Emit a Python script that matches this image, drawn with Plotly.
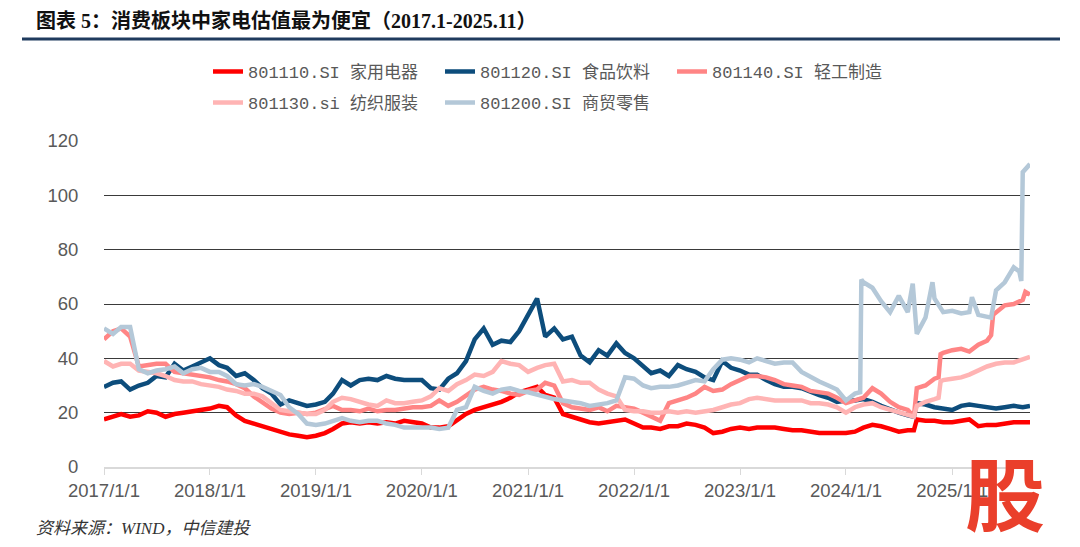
import pandas as pd
import plotly.graph_objects as go

# ---------------- data (monthly + a few extra points at jumps) -------------
months = pd.date_range("2017-01-01", periods=105, freq="MS")
END = "2025-09-26"

names = ["801110.SI 家用电器", "801120.SI 食品饮料", "801140.SI 轻工制造",
         "801130.si 纺织服装", "801200.SI 商贸零售"]
colors = ["#ff0000", "#0d4d7c", "#ff8585", "#ffb4b4", "#b4c8d8"]

jiadian = [17.5, 18.5, 19.5, 18.5, 19, 20.5, 20, 18.5, 19.5, 20, 20.5, 21,
           21.5, 22.5, 22, 19, 17, 16, 15, 14, 13, 12, 11.5, 11,
           11.5, 12.5, 14, 16, 16.5, 16, 16.5, 16, 16.5, 16, 17, 16.5,
           16, 14.5, 14.5, 15, 17, 19.5, 21, 22, 23, 24, 25.5, 27.5,
           28.5, 29.5, 26.5, 25.5, 19.5, 18.5, 17.5, 16.5, 16, 16.5, 17, 17.5,
           16, 14.5, 14.5, 14, 15, 15, 16, 15.5, 14.5, 12.5, 13, 14,
           14.5, 14, 14.5, 14.5, 14.5, 14, 13.5, 13.5, 13, 12.5, 12.5, 12.5,
           12.5, 13, 14.5, 15.5, 15, 14, 13, 13.5, 17.5, 17, 17, 16.5,
           16.5, 17, 17.5, 15, 15.5, 15.5, 16, 16.5, 16.5]
jiadian_extra = [("2024-08-22", 13.5), (END, 16.5)]

shipin = [29.5, 31, 31.5, 28.5, 30, 31, 33.5, 33, 38, 35.5, 37, 38.5,
          40, 37.5, 36.5, 33.5, 34.5, 32, 29, 27, 23, 24.5, 23.5, 22.5,
          23, 24, 27, 32, 30, 32, 32.5, 32, 33.5, 32.5, 32, 32,
          32, 29, 28.5, 32.5, 34.5, 39, 47, 51, 45, 46.5, 46, 50,
          56, 62, 48, 51, 47, 48, 41, 38.5, 43, 41, 45.5, 42,
          40, 37, 34.5, 35.5, 33.5, 37.5, 36, 35, 33, 32, 39, 36.5,
          35.5, 34, 34, 32, 30.5, 29.5, 29.5, 29, 27.5, 26.5, 25.5, 24,
          24.5, 24.5, 25, 24, 22.5, 21, 20, 19, 23.5, 23, 22, 21.5,
          21, 22.5, 23, 22.5, 22, 21.5, 22, 22.5, 22]
shipin_extra = [("2024-08-22", 18.5), (END, 22.5)]

qinggong = [47, 50, 51, 48, 37, 37.5, 38, 38, 35, 34.5, 34, 33.5,
            33, 32, 31.5, 30.5, 29, 26, 24, 21.5, 20, 19.5, 20, 19.5,
            20, 21.5, 22.5, 21, 21, 20.5, 21.5, 20.5, 21, 21, 21.5, 22,
            22, 22.5, 24.5, 22.5, 24, 26.5, 28.5, 29.5, 28.5, 28, 27, 26.5,
            28, 28.5, 31, 30, 23.5, 22, 21.5, 21, 22, 20.5, 22.5, 22,
            21.5, 20, 18.5, 17, 23.5, 24.5, 25.5, 27, 29.5, 28, 28.5, 30.5,
            32, 33.5, 33.5, 33, 32, 30.5, 30, 29.5, 28, 27.5, 27, 25.5,
            23.5, 24.5, 25.5, 29, 27, 24, 22, 21, 29, 30, 32.5, 42,
            43, 43.5, 42.5, 45, 46.5, 57, 59.5, 60, 61.5]
qinggong_extra = [("2024-08-22", 18.5), ("2024-11-15", 33), ("2024-11-22", 41.5),
                  ("2025-05-15", 48.5), ("2025-05-22", 56), ("2025-09-10", 64.5), (END, 63.5)]

fangzhi = [39, 37, 38, 38, 35.5, 35, 34.5, 33.5, 32, 31.5, 31.5, 30.5,
           30, 29.5, 28.5, 28, 27, 27, 26, 23.5, 21, 20.5, 20, 19.5,
           19.5, 21, 24, 25.5, 25, 24, 23, 22.5, 24.5, 23.5, 23.5, 24,
           24.5, 26, 29, 28, 30.5, 32, 34, 33.5, 35, 39, 38, 37.5,
           35, 36.5, 37.5, 38, 31.5, 32, 31, 31, 28.5, 27, 26, 21,
           20.5, 20.5, 20, 20, 20.5, 20, 20.5, 20, 20.5, 21, 22, 23,
           23.5, 25, 25.5, 25, 24.5, 24.5, 24.5, 24.5, 23.5, 23.5, 23, 22,
           20, 22, 23, 23.5, 22, 21, 20, 19, 22.5, 24, 25, 32,
           32.5, 33, 34, 35.5, 37, 38, 38.5, 38.5, 39.5]
fangzhi_extra = [("2024-08-22", 18.5), ("2024-11-15", 25.5), ("2024-11-22", 31.5), (END, 40.5)]

shangmao = [51, 49, 51.5, 51.5, 36, 34.5, 35.5, 36, 37, 34.5, 36, 36.5,
            35, 35, 33.5, 30.5, 30, 30.5, 29.5, 28, 26.5, 22, 19.5, 16,
            15.5, 16, 17, 18, 17, 16.5, 17, 17, 16, 15.5, 14.5, 14.5,
            14.5, 14.5, 14, 14.5, 21, 22, 29.5, 28, 27, 28.5, 29, 28,
            27.5, 26.5, 26, 25, 24.5, 24, 23.5, 22.5, 23, 23.5, 24.5, 33,
            32.5, 30, 29, 29.5, 29.5, 30, 31, 32, 31.5, 36, 39.5, 40,
            39.5, 38.5, 40, 39, 38, 38.5, 38.5, 35, 33, 31.5, 30, 28.5,
            24.5, 27, 68, 66, 61, 57, 63, 57, 49, 55, 62, 57,
            57.5, 56.5, 57, 56, 55.5, 65, 68, 73.5, 108.5]
shangmao_extra = [("2024-02-19", 27.5), ("2024-02-23", 69), ("2024-08-18", 67.5),
                  ("2024-10-25", 68), ("2025-03-10", 62.5), ("2025-05-15", 55),
                  ("2025-08-20", 72), ("2025-08-27", 68.5), (END, 111.5)]

yticks = [0, 20, 40, 60, 80, 100, 120]
xtick_dates = ["2017-01-01", "2018-01-01", "2019-01-01", "2020-01-01", "2021-01-01",
               "2022-01-01", "2023-01-01", "2024-01-01", "2025-01-01"]
xtick_text = ["2017/1/1", "2018/1/1", "2019/1/1", "2020/1/1", "2021/1/1",
              "2022/1/1", "2023/1/1", "2024/1/1", "2025/1/1"]

title_text = "图表 5：消费板块中家电估值最为便宜（2017.1-2025.11）"
source_text = "资料来源：WIND，中信建投"


def build(vals, extra):
    s = pd.Series(vals, index=months)
    e = pd.Series([v for _, v in extra], index=pd.to_datetime([d for d, _ in extra]))
    return pd.concat([s, e]).sort_index()


series = [build(jiadian, jiadian_extra), build(shipin, shipin_extra),
          build(qinggong, qinggong_extra), build(fangzhi, fangzhi_extra),
          build(shangmao, shangmao_extra)]
legend_ids = ["legend", "legend", "legend", "legend2", "legend2"]

# ---------------- figure -------------
# the page body has an 8px margin, so the figure is drawn 8px smaller and
# all positions below are given in the coordinates of the full 1080x547 window
OFF = 8
W, H = 1080 - OFF, 547 - OFF
PL, PR, PT, PB = 104, 1030, 141, 466.7          # plot box in window pixels
L, R, T, B = PL - OFF, W - (PR - OFF), PT - OFF, H - (PB - OFF)


def px(x):
    return (x - PL) / (PR - PL)


def py(y):
    return (PB - y) / (PB - PT)


fig = go.Figure()
for s, n, c, lg in zip(series, names, colors, legend_ids):
    fig.add_trace(go.Scatter(x=s.index, y=s.values, mode="lines", name=n,
                             line=dict(color=c, width=4.5), legend=lg))

legend_font = dict(family="Liberation Mono, Noto Sans CJK SC", size=17, color="#595959")
common_leg = dict(orientation="h", xanchor="left", yanchor="middle",
                  entrywidth=187, entrywidthmode="pixels", font=legend_font,
                  bgcolor="rgba(0,0,0,0)", borderwidth=0)
fig.update_layout(
    width=W, height=H,
    margin=dict(l=L, r=R, t=T, b=B, autoexpand=False),
    paper_bgcolor="white", plot_bgcolor="white",
    showlegend=True,
    legend=dict(x=px(208), y=py(72), **common_leg),
    legend2=dict(x=px(208), y=py(103), **common_leg),
    xaxis=dict(type="date", range=["2017-01-01", END],
               tickvals=xtick_dates, ticktext=xtick_text,
               showgrid=False, showline=True, linecolor="#d9d9d9", linewidth=2,
               ticks="outside", ticklen=6, tickcolor="#d9d9d9", tickwidth=1,
               tickfont=dict(family="Liberation Sans, Arial", size=18.5, color="#595959")),
    yaxis=dict(range=[0, 120], tickvals=yticks, showgrid=True, gridcolor="#3a3a3a",
               gridwidth=1, zeroline=True, zerolinecolor="#d9d9d9", zerolinewidth=2,
               showline=False, ticks="outside", ticklen=21, tickcolor="rgba(0,0,0,0)",
               tickfont=dict(family="Liberation Sans, Arial", size=18.5, color="#595959")),
)

# title
fig.add_annotation(text="<b>" + title_text + "</b>", xref="paper", yref="paper",
                   x=px(34), y=py(21), xanchor="left", yanchor="middle", showarrow=False,
                   font=dict(family="Liberation Serif, Noto Sans CJK SC", size=20, color="#111111"))
# rule under title
fig.add_shape(type="line", xref="paper", yref="paper", x0=px(22), x1=px(1060),
              y0=py(39), y1=py(39), line=dict(color="#1f3b5e", width=3))
# source
fig.add_annotation(text="<i>" + source_text + "</i>", xref="paper", yref="paper",
                   x=px(34), y=py(528), xanchor="left", yanchor="middle", showarrow=False,
                   font=dict(family="Liberation Serif, Noto Sans CJK SC", size=17, color="#333333"))
# logo glyph
fig.add_annotation(text="<b>股</b>", xref="paper", yref="paper",
                   x=px(1005), y=py(490), xanchor="center", yanchor="middle", showarrow=False,
                   font=dict(family="Noto Sans CJK SC", size=80, color="#ea3f2b"))

fig.write_html("out.html")
